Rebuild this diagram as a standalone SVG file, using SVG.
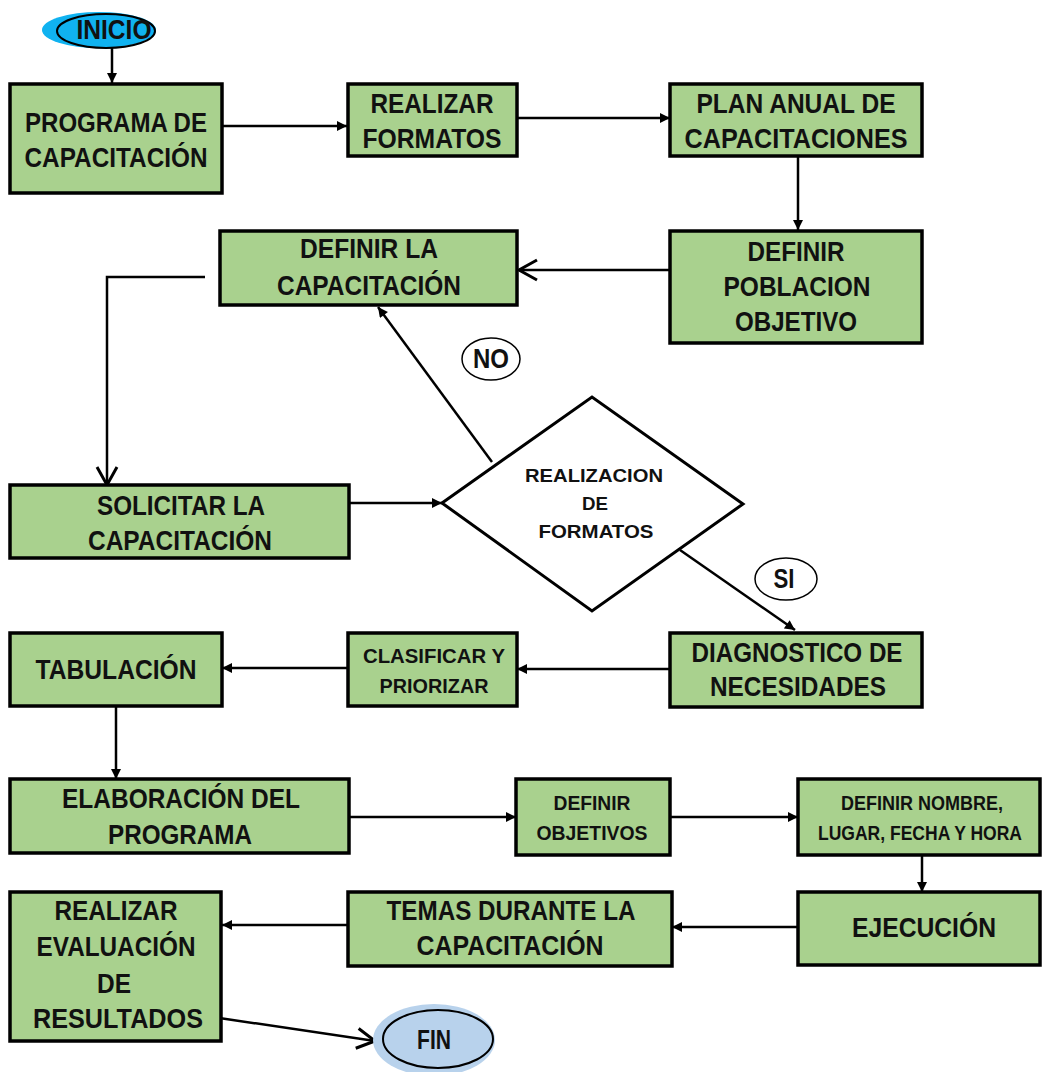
<svg xmlns="http://www.w3.org/2000/svg" width="1043" height="1072" viewBox="0 0 1043 1072">
  <defs>
    <marker id="arr" viewBox="0 0 10 10" refX="10" refY="5" markerWidth="11" markerHeight="10" markerUnits="userSpaceOnUse" orient="auto">
      <path d="M0,0 L10,5 L0,10 z" fill="#000"/>
    </marker>
    <marker id="open" viewBox="0 0 20 22" refX="19" refY="11" markerWidth="20" markerHeight="22" markerUnits="userSpaceOnUse" orient="auto" overflow="visible">
      <path d="M1,1 L19,11 L1,21" fill="none" stroke="#000" stroke-width="3"/>
    </marker>
  </defs>
  <style>
    .box { fill: #a9d18e; stroke: #000; stroke-width: 3.5; }
    .t { font-family: "Liberation Sans Narrow", "Liberation Sans", Arial, sans-serif; font-weight: bold; font-size: 28px; fill: #111; text-anchor: middle; }
    .s { font-family: "Liberation Sans Narrow", "Liberation Sans", Arial, sans-serif; font-weight: bold; font-size: 21px; fill: #111; text-anchor: middle; }
    .d { font-family: "Liberation Sans", Arial, sans-serif; font-weight: bold; font-size: 19px; fill: #111; text-anchor: middle; }
    .c { fill: none; stroke: #000; stroke-width: 2.5; }
    .lbl { fill: #fff; stroke: #000; stroke-width: 1.5; }
  </style>
  <rect width="1043" height="1072" fill="#fff"/>

  <!-- connectors -->
  <g id="connectors">
    <path class="c" d="M112,48 V83" marker-end="url(#arr)"/>
    <path class="c" d="M222,126 H347" marker-end="url(#arr)"/>
    <path class="c" d="M517,118 H670" marker-end="url(#arr)"/>
    <path class="c" d="M798,156 V230" marker-end="url(#arr)"/>
    <path class="c" d="M670,270 H519" marker-end="url(#open)"/>
    <path class="c" d="M205,277 H107 V485" stroke-width="3" marker-end="url(#open)"/>
    <path class="c" d="M349,503 H442" marker-end="url(#arr)"/>
    <path class="c" d="M492,462 L378,307" marker-end="url(#arr)"/>
    <path class="c" d="M680,550 L795,630" marker-end="url(#arr)"/>
    <path class="c" d="M670,669 H517" marker-end="url(#arr)"/>
    <path class="c" d="M348,668 H222" marker-end="url(#arr)"/>
    <path class="c" d="M116,706 V779" marker-end="url(#arr)"/>
    <path class="c" d="M349,817 H516" marker-end="url(#arr)"/>
    <path class="c" d="M670,817 H798" marker-end="url(#arr)"/>
    <path class="c" d="M922,855 V892" marker-end="url(#arr)"/>
    <path class="c" d="M798,927 H672" marker-end="url(#arr)"/>
    <path class="c" d="M348,925 H222" marker-end="url(#arr)"/>
    <path class="c" d="M206,1016 L375,1041" stroke-width="3" marker-end="url(#open)"/>
  </g>

  <!-- start terminal -->
  <g id="inicio">
    <ellipse cx="99" cy="30" rx="57" ry="18" fill="#10b2f0"/>
    <ellipse cx="106" cy="31" rx="49" ry="17" fill="none" stroke="#000" stroke-width="2"/>
    <text class="t" x="114" y="39" textLength="75" lengthAdjust="spacingAndGlyphs">INICIO</text>
  </g>

  <g id="programa">
    <rect class="box" x="10" y="84" width="212" height="109"/>
    <text class="t" x="116" y="132" textLength="182" lengthAdjust="spacingAndGlyphs">PROGRAMA DE</text>
    <text class="t" x="116" y="167" textLength="183" lengthAdjust="spacingAndGlyphs">CAPACITACIÓN</text>
  </g>

  <g id="realizar-formatos">
    <rect class="box" x="348" y="84" width="169" height="72"/>
    <text class="t" x="432" y="113" textLength="123" lengthAdjust="spacingAndGlyphs">REALIZAR</text>
    <text class="t" x="432" y="148" textLength="139" lengthAdjust="spacingAndGlyphs">FORMATOS</text>
  </g>

  <g id="plan-anual">
    <rect class="box" x="670" y="84" width="252" height="72"/>
    <text class="t" x="796" y="113" textLength="199" lengthAdjust="spacingAndGlyphs">PLAN ANUAL DE</text>
    <text class="t" x="796" y="148" textLength="223" lengthAdjust="spacingAndGlyphs">CAPACITACIONES</text>
  </g>

  <g id="definir-poblacion">
    <rect class="box" x="670" y="231" width="252" height="112"/>
    <text class="t" x="796" y="261" textLength="97" lengthAdjust="spacingAndGlyphs">DEFINIR</text>
    <text class="t" x="797" y="296" textLength="147" lengthAdjust="spacingAndGlyphs">POBLACION</text>
    <text class="t" x="796" y="331" textLength="122" lengthAdjust="spacingAndGlyphs">OBJETIVO</text>
  </g>

  <g id="definir-capacitacion">
    <rect class="box" x="220" y="231" width="297" height="74"/>
    <text class="t" x="369" y="258" textLength="138" lengthAdjust="spacingAndGlyphs">DEFINIR LA</text>
    <text class="t" x="369" y="295" textLength="184" lengthAdjust="spacingAndGlyphs">CAPACITACIÓN</text>
  </g>

  <g id="solicitar">
    <rect class="box" x="10" y="485" width="339" height="73"/>
    <text class="t" x="181" y="515" textLength="168" lengthAdjust="spacingAndGlyphs">SOLICITAR LA</text>
    <text class="t" x="180" y="550" textLength="184" lengthAdjust="spacingAndGlyphs">CAPACITACIÓN</text>
  </g>

  <g id="decision">
    <polygon points="442,503 592,397 743,504 592,611" fill="#fff" stroke="#000" stroke-width="3"/>
    <text class="d" x="594" y="482" textLength="138" lengthAdjust="spacingAndGlyphs">REALIZACION</text>
    <text class="d" x="595" y="510" textLength="26" lengthAdjust="spacingAndGlyphs">DE</text>
    <text class="d" x="596" y="538" textLength="115" lengthAdjust="spacingAndGlyphs">FORMATOS</text>
  </g>

  <g id="label-no">
    <ellipse class="lbl" cx="491" cy="359" rx="29" ry="21"/>
    <text class="t" x="491" y="368" font-size="25" textLength="36" lengthAdjust="spacingAndGlyphs">NO</text>
  </g>

  <g id="label-si">
    <ellipse class="lbl" cx="786" cy="579" rx="31" ry="21"/>
    <text class="t" x="784" y="588" font-size="25" textLength="21" lengthAdjust="spacingAndGlyphs">SI</text>
  </g>

  <g id="diagnostico">
    <rect class="box" x="670" y="633" width="252" height="74"/>
    <text class="t" x="797" y="662" textLength="211" lengthAdjust="spacingAndGlyphs">DIAGNOSTICO DE</text>
    <text class="t" x="798" y="696" textLength="176" lengthAdjust="spacingAndGlyphs">NECESIDADES</text>
  </g>

  <g id="clasificar">
    <rect class="box" x="348" y="633" width="169" height="73"/>
    <text class="s" x="434" y="663" textLength="142" lengthAdjust="spacingAndGlyphs">CLASIFICAR Y</text>
    <text class="s" x="434" y="693" textLength="109" lengthAdjust="spacingAndGlyphs">PRIORIZAR</text>
  </g>

  <g id="tabulacion">
    <rect class="box" x="10" y="633" width="212" height="73"/>
    <text class="t" x="116" y="679" textLength="161" lengthAdjust="spacingAndGlyphs">TABULACIÓN</text>
  </g>

  <g id="elaboracion">
    <rect class="box" x="10" y="779" width="339" height="74"/>
    <text class="t" x="181" y="808" textLength="238" lengthAdjust="spacingAndGlyphs">ELABORACIÓN DEL</text>
    <text class="t" x="180" y="844" textLength="144" lengthAdjust="spacingAndGlyphs">PROGRAMA</text>
  </g>

  <g id="definir-objetivos">
    <rect class="box" x="516" y="779" width="154" height="76"/>
    <text class="s" x="592" y="810" textLength="77" lengthAdjust="spacingAndGlyphs">DEFINIR</text>
    <text class="s" x="592" y="840" textLength="111" lengthAdjust="spacingAndGlyphs">OBJETIVOS</text>
  </g>

  <g id="definir-nombre">
    <rect class="box" x="798" y="779" width="242" height="76"/>
    <text class="s" x="922" y="810" textLength="162" lengthAdjust="spacingAndGlyphs">DEFINIR NOMBRE,</text>
    <text class="s" x="920" y="840" font-size="19" textLength="204" lengthAdjust="spacingAndGlyphs">LUGAR, FECHA Y HORA</text>
  </g>

  <g id="ejecucion">
    <rect class="box" x="798" y="892" width="242" height="73"/>
    <text class="t" x="924" y="937" textLength="144" lengthAdjust="spacingAndGlyphs">EJECUCIÓN</text>
  </g>

  <g id="temas">
    <rect class="box" x="348" y="892" width="324" height="74"/>
    <text class="t" x="511" y="920" textLength="249" lengthAdjust="spacingAndGlyphs">TEMAS DURANTE LA</text>
    <text class="t" x="510" y="955" textLength="187" lengthAdjust="spacingAndGlyphs">CAPACITACIÓN</text>
  </g>

  <g id="evaluacion">
    <rect class="box" x="10" y="892" width="211" height="149"/>
    <text class="t" x="116" y="920" textLength="123" lengthAdjust="spacingAndGlyphs">REALIZAR</text>
    <text class="t" x="116" y="956" textLength="159" lengthAdjust="spacingAndGlyphs">EVALUACIÓN</text>
    <text class="t" x="114" y="993" textLength="34" lengthAdjust="spacingAndGlyphs">DE</text>
    <text class="t" x="118" y="1028" textLength="170" lengthAdjust="spacingAndGlyphs">RESULTADOS</text>
  </g>

  <!-- end terminal -->
  <g id="fin">
    <ellipse cx="434" cy="1040" rx="61" ry="36" fill="#b8d2ec"/>
    <ellipse cx="438" cy="1039" rx="55" ry="29" fill="none" stroke="#000" stroke-width="2"/>
    <text class="t" x="434" y="1049" font-size="26" textLength="34" lengthAdjust="spacingAndGlyphs">FIN</text>
  </g>
</svg>
